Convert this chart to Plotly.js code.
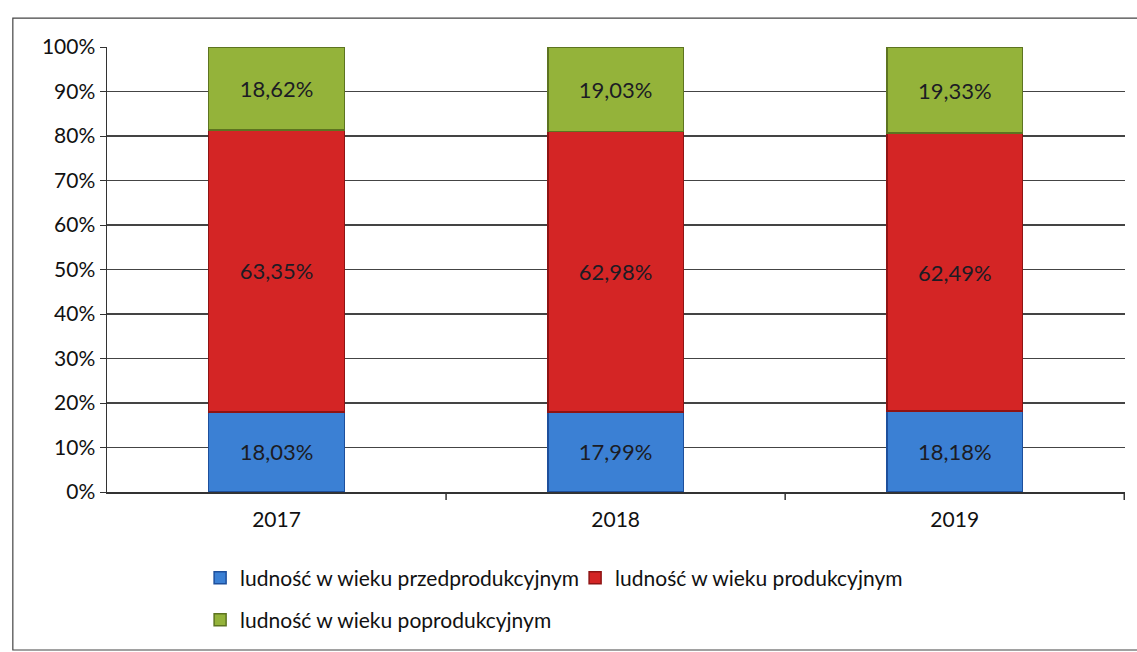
<!DOCTYPE html>
<html>
<head>
<meta charset="utf-8">
<script src="https://cdn.plot.ly/plotly-3.0.1.min.js"></script>
<style>html,body{margin:0;padding:0;background:#fff;}#chart{width:1137px;height:652px;}</style>
</head>
<body>
<div id="chart"></div>
<script>
const years = ['2017', '2018', '2019'];
const przedprodukcyjny = [18.03, 17.99, 18.18];
const produkcyjny = [63.35, 62.98, 62.49];
const poprodukcyjny = [18.62, 19.03, 19.33];
const seriesNames = ['ludność w wieku przedprodukcyjnym', 'ludność w wieku produkcyjnym', 'ludność w wieku poprodukcyjnym'];
const yTickVals = [0, 10, 20, 30, 40, 50, 60, 70, 80, 90, 100];
const yTickText = ['0%', '10%', '20%', '30%', '40%', '50%', '60%', '70%', '80%', '90%', '100%'];

const fmt = v => v.toFixed(2).replace('.', ',') + '%';
const font = 'Lato, "Open Sans", sans-serif';

function mk(name, vals, color, line, legend) {
  return {
    type: 'bar', name: name, x: years, y: vals, legend: legend,
    text: vals.map(fmt), textposition: 'inside', insidetextanchor: 'middle',
    textfont: {family: font, size: 22, color: '#1c1c24'},
    marker: {color: color, line: {color: line, width: 1.5}},
    hoverinfo: 'skip'
  };
}

const data = [
  mk(seriesNames[0], przedprodukcyjny, '#3b80d4', '#1d4f9c', 'legend'),
  mk(seriesNames[1], produkcyjny, '#d42525', '#8e1414', 'legend'),
  mk(seriesNames[2], poprodukcyjny, '#94b33a', '#5d7420', 'legend2')
];

const legendBase = {
  orientation: 'h', xref: 'container', yref: 'container',
  xanchor: 'left', yanchor: 'middle', traceorder: 'normal',
  font: {family: font, size: 21, color: '#111'},
  entrywidth: 330, entrywidthmode: 'pixels', itemwidth: 30
};

const layout = {
  width: 1137, height: 652,
  margin: {l: 107, r: 12, t: 47, b: 160},
  barmode: 'stack', bargap: 0.6,
  paper_bgcolor: '#fff', plot_bgcolor: '#fff',
  font: {family: font, size: 21, color: '#111'},
  showlegend: true,
  legend: Object.assign({}, legendBase, {x: 0.176, y: 1 - 578 / 652}),
  legend2: Object.assign({}, legendBase, {x: 0.176, y: 1 - 620 / 652}),
  xaxis: {
    type: 'category', showline: true, linecolor: '#333', linewidth: 1.5,
    ticks: '', showgrid: false, tickfont: {family: font, size: 21, color: '#111'},
    ticklabelstandoff: 8
  },
  yaxis: {
    range: [0, 100], tickvals: yTickVals, ticktext: yTickText,
    showline: true, linecolor: '#333', linewidth: 1.5,
    ticks: 'outside', ticklen: 6, tickcolor: '#333',
    showgrid: true, gridcolor: '#444', gridwidth: 1.2,
    tickfont: {family: font, size: 21, color: '#111'}, zeroline: false
  },
  shapes: [
    {type: 'rect', xref: 'paper', yref: 'paper', x0: -0.0925, x1: 1.02, y0: -0.355, y1: 1.065,
     line: {color: '#444', width: 1.2}, fillcolor: 'rgba(0,0,0,0)', layer: 'below'},
    {type: 'line', xref: 'x', yref: 'paper', x0: 0.5, x1: 0.5, y0: 0, y1: -0.018, line: {color: '#333', width: 1.5}},
    {type: 'line', xref: 'x', yref: 'paper', x0: 1.5, x1: 1.5, y0: 0, y1: -0.018, line: {color: '#333', width: 1.5}},
    {type: 'line', xref: 'x', yref: 'paper', x0: 2.5, x1: 2.5, y0: 0, y1: -0.018, line: {color: '#333', width: 1.5}}
  ]
};

Plotly.newPlot('chart', data, layout, {displayModeBar: false, staticPlot: true});
</script>
</body>
</html>
